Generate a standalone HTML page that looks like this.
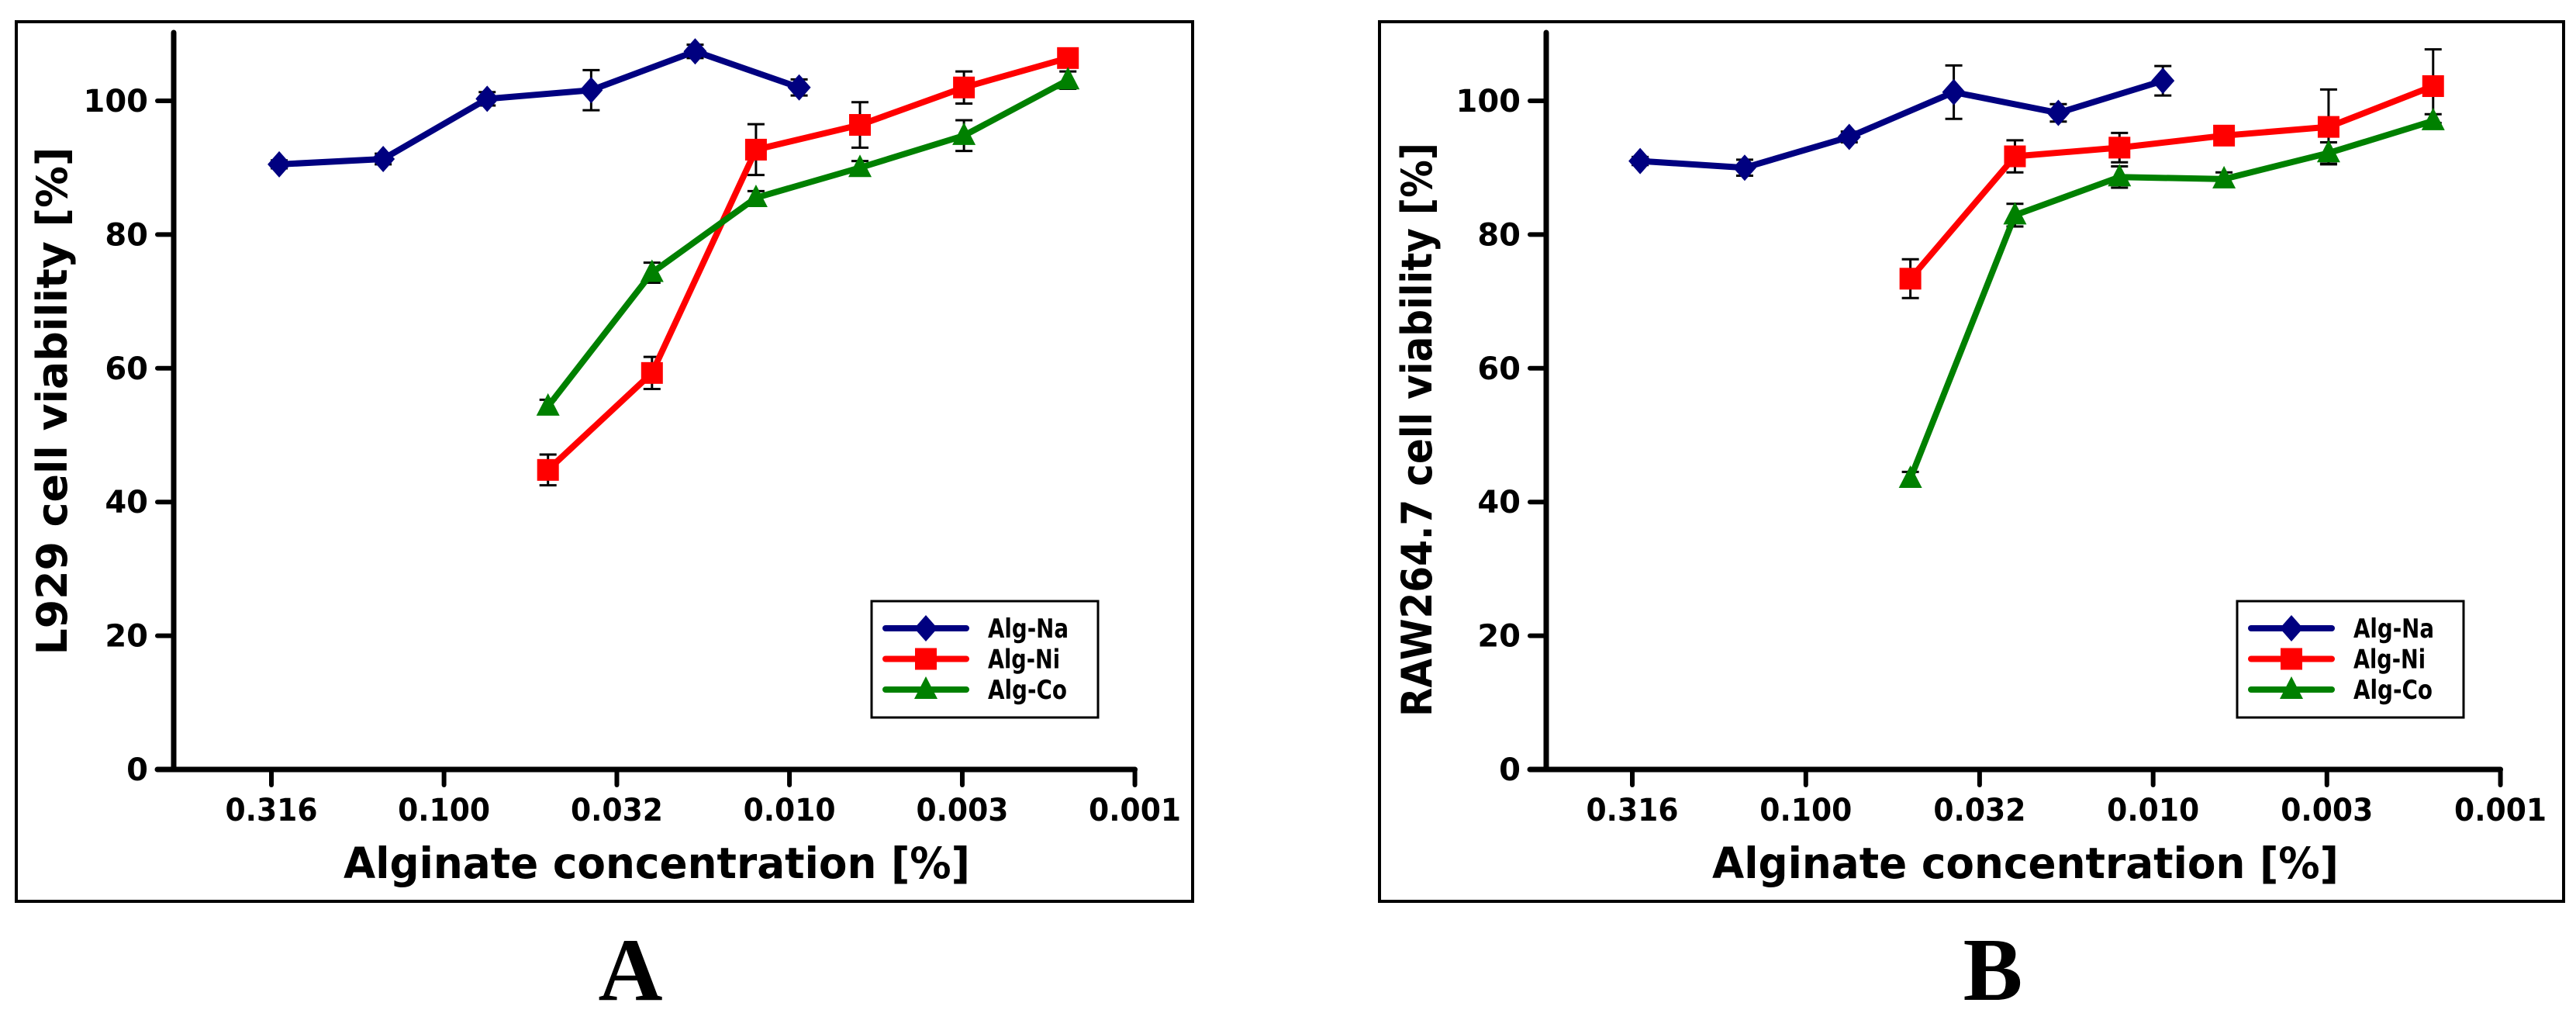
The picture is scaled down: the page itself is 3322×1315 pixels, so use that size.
<!DOCTYPE html>
<html><head><meta charset="utf-8"><style>
html,body{margin:0;padding:0;background:#fff;}
svg{display:block;}
text{font-family:"DejaVu Sans","Liberation Sans",sans-serif;font-weight:bold;fill:#000;}
.serif{font-family:"Liberation Serif",serif;}
</style></head><body>
<svg id="fig" width="3322" height="1315" viewBox="0 0 3322 1315" xmlns="http://www.w3.org/2000/svg"></svg>
<script>
const concNa = [0.3, 0.15, 0.075, 0.0375, 0.01875, 0.009375];
const concMetal = [0.05, 0.025, 0.0125, 0.00625, 0.003125, 0.0015625];
const xTickValues = [0.316, 0.1, 0.0316, 0.01, 0.00316, 0.001];
const xTickLabels = ["0.316", "0.100", "0.032", "0.010", "0.003", "0.001"];
const yTickValues = [0, 20, 40, 60, 80, 100];
const aNa = [90.5, 91.3, 100.3, 101.6, 107.4, 102.0];
const aNaErr = [0.6, 0.8, 1.0, 3.0, 1.0, 1.2];
const aNi = [44.8, 59.3, 92.7, 96.4, 102.0, 106.4];
const aNiErr = [2.3, 2.4, 3.8, 3.4, 2.4, 1.2];
const aCo = [54.3, 74.3, 85.5, 90.0, 94.8, 103.1];
const aCoErr = [1.0, 1.5, 1.0, 1.0, 2.3, 1.3];
const bNa = [91.0, 90.0, 94.6, 101.3, 98.2, 103.0];
const bNaErr = [0.6, 1.2, 0.8, 4.0, 1.3, 2.2];
const bNi = [73.4, 91.7, 93.0, 94.8, 96.1, 102.2];
const bNiErr = [2.9, 2.4, 2.2, 1.0, 5.6, 5.5];
const bCo = [43.5, 82.9, 88.6, 88.3, 92.2, 97.0];
const bCoErr = [1.0, 1.7, 1.6, 1.0, 1.6, 1.0];
const legendLabels = ['Alg-Na','Alg-Ni','Alg-Co'];

const NS = "http://www.w3.org/2000/svg";
const svg = document.getElementById('fig');
function mk(parent, tag, attrs, txt){
  const e = document.createElementNS(NS, tag);
  for (const k in attrs) e.setAttribute(k, attrs[k]);
  if (txt !== undefined) e.textContent = txt;
  parent.appendChild(e);
  return e;
}

function panel(cfg){
  const g = mk(svg, 'g', {});
  
  
  const frame = mk(g, 'rect', {x:cfg.fx1, y:28, width:cfg.fx2-cfg.fx1, height:1162-28, fill:'none', stroke:'#000', 'stroke-width':4});
  
  
  const ax = cfg.axisX, y0 = 992, y100 = 130;
  const xTick0 = cfg.tick0, step = cfg.step;
  const pxPerDecade = step / Math.log10(0.316/0.1);
  const xs = c => xTick0 + (Math.log10(0.316) - Math.log10(c)) * pxPerDecade;
  const ys = v => y0 - (v/100) * (y0 - y100);
  const xEnd = xs(0.001);
  const yAxis = mk(g, 'path', {d:`M${ax} 42 L${ax} ${y0}`, stroke:'#000', 'stroke-width':7, 'stroke-linecap':'round', fill:'none'});
  
  
  const xAxis = mk(g, 'path', {d:`M${ax-21} ${y0} L${xEnd} ${y0}`, stroke:'#000', 'stroke-width':7, 'stroke-linecap':'round', fill:'none'});
  
  
  yTickValues.forEach(v => {
    const y = ys(v);
    const t = mk(g, 'path', {d:`M${ax-21} ${y} L${ax} ${y}`, stroke:'#000', 'stroke-width':6, 'stroke-linecap':'round'});
    
    
    const l = mk(g, 'text', {x:ax-33, y:y+14, 'text-anchor':'end', 'font-size':40}, String(v));
    
    
  });
  xTickValues.forEach((v,i) => {
    const x = xs(v);
    const t = mk(g, 'path', {d:`M${x} ${y0} L${x} ${y0+20}`, stroke:'#000', 'stroke-width':6, 'stroke-linecap':'round'});
    
    
    const l = mk(g, 'text', {x:x, y:1058, 'text-anchor':'middle', 'font-size':40, textLength:119, lengthAdjust:'spacingAndGlyphs'}, xTickLabels[i]);
    
    
  });
  const xt = mk(g, 'text', {x:cfg.xTitleX, y:1132, 'text-anchor':'middle', 'font-size':55, textLength:808, lengthAdjust:'spacingAndGlyphs'}, 'Alginate concentration [%]');
  
  
  const yt = mk(g, 'text', {x:0, y:0, transform:`translate(${cfg.yTitleX},${cfg.yTitleC}) rotate(-90)`, 'text-anchor':'middle', 'font-size':54, textLength:cfg.yTitleLen, lengthAdjust:'spacingAndGlyphs'}, cfg.yTitle);
  
  

  const series = [
    {name:'alg-na', color:'#000080', marker:'diamond', conc:concNa, vals:cfg.na, err:cfg.naErr},
    {name:'alg-ni', color:'#ff0000', marker:'square', conc:concMetal, vals:cfg.ni, err:cfg.niErr},
    {name:'alg-co', color:'#008000', marker:'triangle', conc:concMetal, vals:cfg.co, err:cfg.coErr}
  ];
  function marker(parent, type, x, y, color){
    let m;
    if (type==='diamond') m = mk(parent, 'path', {d:`M${x} ${y-17} L${x+15} ${y} L${x} ${y+17} L${x-15} ${y} Z`, fill:color});
    else if (type==='square') m = mk(parent, 'rect', {x:x-14, y:y-14, width:28, height:28, fill:color});
    else m = mk(parent, 'path', {d:`M${x} ${y-17} L${x+15} ${y+12} L${x-15} ${y+12} Z`, fill:color});
    return m;
  }
  series.forEach(s => {
    const sg = mk(g, 'g', {});
    
    
    s.vals.forEach((v,i) => {
      const x = xs(s.conc[i]), yt1 = ys(v + s.err[i]), yb = ys(v - s.err[i]);
      const e = mk(sg, 'path', {d:`M${x} ${yt1} L${x} ${yb} M${x-11} ${yt1} L${x+11} ${yt1} M${x-11} ${yb} L${x+11} ${yb}`, stroke:'#000', 'stroke-width':3, fill:'none'});
      
      
    });
    const d = s.vals.map((v,i) => (i ? 'L' : 'M') + xs(s.conc[i]) + ' ' + ys(v)).join(' ');
    const line = mk(sg, 'path', {d:d, stroke:s.color, 'stroke-width':8, fill:'none', 'stroke-linejoin':'round'});
    
    
    s.vals.forEach((v,i) => {
      const m = marker(sg, s.marker, xs(s.conc[i]), ys(v), s.color);
      
      
    });
  });
  const lg = mk(g, 'g', {});
  
  
  const lx = cfg.legX;
  const lb = mk(lg, 'rect', {x:lx, y:775, width:292, height:150, fill:'#fff', stroke:'#000', 'stroke-width':3});
  
  
  const txtLens = [104, 93, 102];
  series.forEach((s,i) => {
    const y = 810 + i*39.5;
    const ln = mk(lg, 'path', {d:`M${lx+18} ${y} L${lx+122} ${y}`, stroke:s.color, 'stroke-width':8, 'stroke-linecap':'round'});
    
    
    const m = marker(lg, s.marker, lx+70, y, s.color);
    
    
    const t = mk(lg, 'text', {x:lx+150, y:y+12, 'font-size':34, textLength:txtLens[i], lengthAdjust:'spacingAndGlyphs'}, legendLabels[i]);
    
    
  });
  const letter = mk(svg, 'text', {x:cfg.letterX, y:1289, 'text-anchor':'middle', 'font-size':115, class:'serif'}, cfg.letter);
  
  
}

panel({name:'panel-a', fx1:21, fx2:1538, axisX:224, tick0:350, step:222.6, xTitleX:847,
  yTitleX:86, yTitleC:517, yTitleLen:655, yTitle:'L929 cell viability [%]', legX:1124,
  na:aNa, naErr:aNaErr, ni:aNi, niErr:aNiErr, co:aCo, coErr:aCoErr, letter:'A', letterX:813});
panel({name:'panel-b', fx1:1779, fx2:3306, axisX:1994, tick0:2105, step:223.8, xTitleX:2612,
  yTitleX:1846, yTitleC:554, yTitleLen:740, yTitle:'RAW264.7 cell viability [%]', legX:2885,
  na:bNa, naErr:bNaErr, ni:bNi, niErr:bNiErr, co:bCo, coErr:bCoErr, letter:'B', letterX:2570});
</script>
</body></html>
